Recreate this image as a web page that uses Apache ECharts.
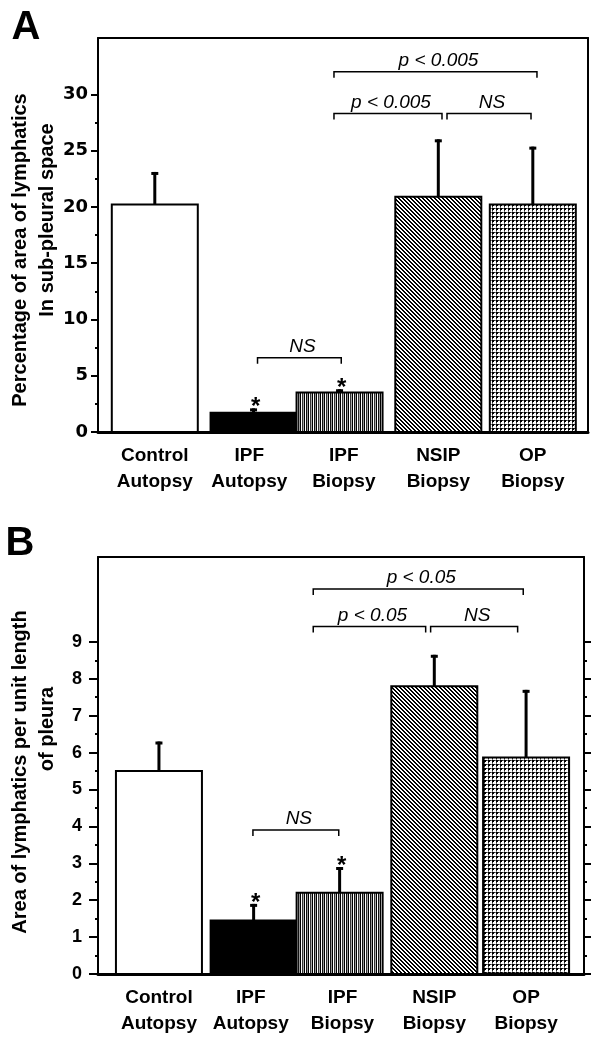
<!DOCTYPE html>
<html>
<head>
<meta charset="utf-8">
<script src="https://cdn.jsdelivr.net/npm/echarts@6/dist/echarts.min.js"></script>
<style>
  html, body { margin: 0; padding: 0; background: #fff; }
  #chart { width: 591px; height: 1037px; }
</style>
</head>
<body>
<div id="chart"></div>
<script>
// ---- data -------------------------------------------------------------
const categories = ['Control\nAutopsy', 'IPF\nAutopsy', 'IPF\nBiopsy', 'NSIP\nBiopsy', 'OP\nBiopsy'];

// Panel A: percentage of area of lymphatics in sub-pleural space (mean, SE)
const areaPercent   = [20.2, 1.7, 3.5, 20.9, 20.2];
const areaPercentSE = [2.9, 0.4, 0.3, 5.1, 5.15];

// Panel B: area of lymphatics per unit length of pleura (mean, SE)
const areaPerLength   = [5.5, 1.45, 2.2, 7.8, 5.87];
const areaPerLengthSE = [0.8, 0.45, 0.7, 0.85, 1.83];

// groups marked with an asterisk (different from control)
const starred = [false, true, true, false, false];

// axis ticks
const ticksA      = [0, 5, 10, 15, 20, 25, 30];
const minorTicksA = [2.5, 7.5, 12.5, 17.5, 22.5, 27.5];
const ticksB      = [0, 1, 2, 3, 4, 5, 6, 7, 8, 9];
const minorTicksB = [0.5, 1.5, 2.5, 3.5, 4.5, 5.5, 6.5, 7.5, 8.5];

// significance brackets: [from, to, level, label] (x in group-index units)
const bracketsA = [
  [1.087, 1.973, 6.6, 'NS'],
  [1.896, 3.039, 28.3, 'p < 0.005'],
  [3.092, 3.981, 28.3, 'NS'],
  [1.896, 4.044, 32.0, 'p < 0.005']
];
const bracketsB = [
  [1.024, 1.959, 3.9, 'NS'],
  [1.681, 2.906, 9.42, 'p < 0.05'],
  [2.960, 3.908, 9.42, 'NS'],
  [1.681, 3.969, 10.43, 'p < 0.05']
];

// ---- fill patterns ----------------------------------------------------
function tile(w, h, paint) {
  const c = document.createElement('canvas');
  c.width = w; c.height = h;
  const ctx = c.getContext('2d');
  ctx.fillStyle = '#fff';
  ctx.fillRect(0, 0, w, h);
  paint(ctx);
  return c;
}
const verticalLines = tile(8, 1, ctx => {
  const cols = ['#000', '#fff', '#111', '#999', '#000', '#fff', '#333', '#aaa'];
  cols.forEach((col, i) => { ctx.fillStyle = col; ctx.fillRect(i, 0, 1, 1); });
});
const diagonalLines = tile(4, 4, ctx => {
  ctx.fillStyle = '#000';
  for (let y = 0; y < 4; y++) for (let x = 0; x < 4; x++) {
    if ((((x - y) % 4) + 4) % 4 < 2) ctx.fillRect(x, y, 1, 1);
  }
});
const dotGrid = tile(4, 4, ctx => {
  ctx.fillStyle = '#000';
  ctx.fillRect(0, 0, 2, 2);
  ctx.fillStyle = '#222';
  ctx.fillRect(2, 0, 1, 1);
  ctx.fillRect(0, 2, 1, 1);
  ctx.fillStyle = '#777';
  ctx.fillRect(3, 0, 1, 1);
  ctx.fillRect(0, 3, 1, 1);
});
const fills = [
  '#fff',
  '#000',
  { image: verticalLines, repeat: 'repeat' },
  { image: diagonalLines, repeat: 'repeat' },
  { image: dotGrid, repeat: 'repeat' }
];

// ---- layout / styling -------------------------------------------------
const SANS = "'Liberation Sans', Arial, Helvetica, sans-serif";
const BAR_W = 86;

// the two IPF bars are drawn flush against each other
function barShift(idx, api) {
  const band = api.size([1, 0])[0];
  if (idx === 1) return (band - BAR_W) / 2;
  if (idx === 2) return -(band - BAR_W) / 2;
  return 0;
}

function barSeries(xi, yi, values) {
  return {
    type: 'custom', xAxisIndex: xi, yAxisIndex: yi, z: 2,
    data: values.map((v, i) => [i, v]),
    encode: { x: 0, y: 1 },
    renderItem(params, api) {
      const i = api.value(0);
      const base = api.coord([i, 0]);
      const top = api.coord([i, api.value(1)]);
      const cx = base[0] + barShift(i, api);
      return {
        type: 'rect',
        shape: { x: cx - BAR_W / 2, y: top[1], width: BAR_W, height: base[1] - top[1] },
        style: { fill: fills[i], stroke: '#000', lineWidth: 2 }
      };
    }
  };
}

function errorSeries(xi, yi, values, se) {
  return {
    type: 'custom', xAxisIndex: xi, yAxisIndex: yi, z: 3,
    data: values.map((v, i) => [i, v, v + se[i], starred[i] ? 1 : 0]),
    encode: { x: 0, y: [1, 2] },
    renderItem(params, api) {
      const i = api.value(0);
      const top = api.coord([i, api.value(1)]);
      const hi = api.coord([i, api.value(2)]);
      const cx = top[0] + barShift(i, api);
      const children = [
        { type: 'line', shape: { x1: cx, y1: top[1], x2: cx, y2: hi[1] },
          style: { stroke: '#000', lineWidth: 3 } },
        { type: 'rect', shape: { x: cx - 3.5, y: hi[1], width: 7, height: 3 },
          style: { fill: '#000' } }
      ];
      if (api.value(3)) {
        children.push({
          type: 'text', x: cx + 2, y: hi[1] - 1,
          style: { text: '*', font: 'bold 24px ' + SANS, fill: '#000',
                   align: 'center', verticalAlign: 'middle' }
        });
      }
      return { type: 'group', children };
    }
  };
}

function bracketSeries(xi, yi, list) {
  return {
    type: 'custom', xAxisIndex: xi, yAxisIndex: yi, z: 4,
    data: list.map(b => [b[0], b[1], b[2]]),
    encode: { x: [0, 1], y: 2 },
    renderItem(params, api) {
      const a = api.coord([api.value(0), api.value(2)]);
      const b = api.coord([api.value(1), api.value(2)]);
      const label = list[params.dataIndex][3];
      return {
        type: 'group',
        children: [
          { type: 'polyline',
            shape: { points: [[a[0], a[1] + 6], [a[0], a[1]], [b[0], b[1]], [b[0], b[1] + 6]] },
            style: { stroke: '#000', lineWidth: 1.5, fill: null } },
          { type: 'text', x: (a[0] + b[0]) / 2 + 3, y: a[1] - 11,
            style: { text: label, font: 'italic 19px ' + SANS, fill: '#000',
                     align: 'center', verticalAlign: 'middle' } }
        ]
      };
    }
  };
}

function bottomX(grid, range) {
  return {
    type: 'value', gridIndex: grid, min: range[0], max: range[1], position: 'bottom',
    axisLine: { onZero: false, lineStyle: { color: '#000', width: 3 } },
    axisTick: { show: false }, splitLine: { show: false },
    axisLabel: {
      customValues: [0, 1, 2, 3, 4],
      formatter: v => categories[Math.round(v)],
      color: '#000', fontFamily: SANS, fontWeight: 'bold', fontSize: 19,
      lineHeight: 26, margin: 11
    }
  };
}
function topX(grid, range) {
  return {
    type: 'value', gridIndex: grid, min: range[0], max: range[1], position: 'top',
    axisLine: { onZero: false, lineStyle: { color: '#000', width: 2 } },
    axisTick: { show: false }, axisLabel: { show: false }, splitLine: { show: false }
  };
}
function leftY(grid, max, ticks, font, tickLen, margin) {
  return {
    type: 'value', gridIndex: grid, min: 0, max: max, position: 'left',
    axisLine: { onZero: false, lineStyle: { color: '#000', width: 2 } },
    axisTick: { customValues: ticks, length: tickLen, lineStyle: { color: '#000', width: 2 } },
    axisLabel: { customValues: ticks, color: '#000', fontFamily: font, fontWeight: 'bold',
                 fontSize: 18, margin: margin },
    splitLine: { show: false }
  };
}
function minorY(grid, max, ticks, side) {
  return {
    type: 'value', gridIndex: grid, min: 0, max: max, position: side,
    axisLine: { show: false, onZero: false },
    axisTick: { customValues: ticks, length: 3, lineStyle: { color: '#000', width: 2 } },
    axisLabel: { show: false }, splitLine: { show: false }
  };
}
function rightY(grid, max, ticks) {
  return {
    type: 'value', gridIndex: grid, min: 0, max: max, position: 'right',
    axisLine: { onZero: false, lineStyle: { color: '#000', width: 2 } },
    axisTick: ticks ? { customValues: ticks, length: 7, lineStyle: { color: '#000', width: 2 } }
                    : { show: false },
    axisLabel: { show: false }, splitLine: { show: false }
  };
}

function rotatedTitle(x, y, text) {
  return {
    type: 'text', x: x, y: y, rotation: Math.PI / 2,
    style: { text: text, font: 'bold 20px ' + SANS, fill: '#000',
             align: 'center', verticalAlign: 'middle' }
  };
}

const option = {
  animation: false,
  backgroundColor: '#fff',
  grid: [
    { left: 98, top: 38, width: 490, height: 394 },
    { left: 98, top: 557, width: 486, height: 422 }
  ],
  xAxis: [
    bottomX(0, [-0.601, 4.584]), topX(0, [-0.601, 4.584]),
    bottomX(1, [-0.664, 4.631]), topX(1, [-0.664, 4.631])
  ],
  yAxis: [
    leftY(0, 35, ticksA, "'DejaVu Sans', " + SANS, 7, 10),
    minorY(0, 35, minorTicksA, 'left'),
    rightY(0, 35, null),
    leftY(1, 11.3, ticksB, SANS, 9, 16),
    minorY(1, 11.3, minorTicksB, 'left'),
    rightY(1, 11.3, ticksB),
    minorY(1, 11.3, minorTicksB, 'right')
  ],
  series: [
    barSeries(0, 0, areaPercent),
    errorSeries(0, 0, areaPercent, areaPercentSE),
    bracketSeries(0, 0, bracketsA),
    barSeries(2, 3, areaPerLength),
    errorSeries(2, 3, areaPerLength, areaPerLengthSE),
    bracketSeries(2, 3, bracketsB)
  ],
  graphic: [
    { type: 'text', x: 26, y: 28,
      style: { text: 'A', font: 'bold 40px ' + SANS, fill: '#000', align: 'center', verticalAlign: 'middle' } },
    { type: 'text', x: 20, y: 544,
      style: { text: 'B', font: 'bold 40px ' + SANS, fill: '#000', align: 'center', verticalAlign: 'middle' } },
    rotatedTitle(20, 250, 'Percentage of area of lymphatics'),
    rotatedTitle(47, 220, 'In sub-pleural space'),
    rotatedTitle(20, 772, 'Area of lymphatics per unit length'),
    rotatedTitle(47, 729, 'of pleura')
  ]
};

const chart = echarts.init(document.getElementById('chart'), null, { renderer: 'canvas' });
chart.setOption(option);
</script>
</body>
</html>
